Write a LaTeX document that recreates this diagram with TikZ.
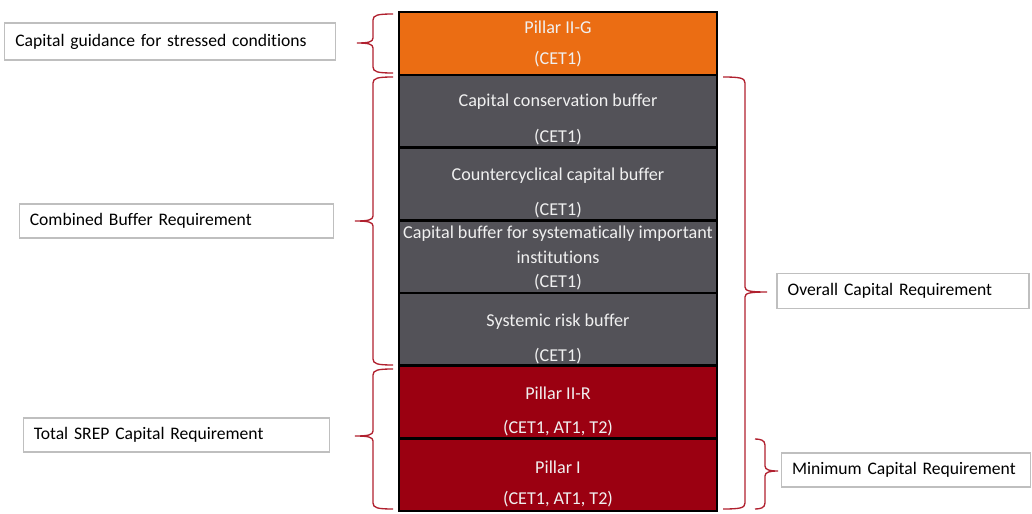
\documentclass[tikz,border=0pt]{standalone}
\usepackage{fontspec}
\setmainfont{Carlito}[Ligatures=NoCommon]
\newfontfamily\tightfont{Carlito}[Ligatures=NoCommon,WordSpace=0.6]
\usetikzlibrary{positioning}
\definecolor{pillarG}{HTML}{EB6D13}
\definecolor{bufgrey}{HTML}{535258}
\definecolor{pillarR}{HTML}{9B0011}
\definecolor{bracered}{HTML}{B0202E}
\definecolor{boxline}{HTML}{BFBFBF}
\definecolor{boxtext}{HTML}{F0F0F0}

\begin{document}
\begin{tikzpicture}[x=0.75pt,y=-0.75pt,
  layer/.style={draw=black,line width=2.2pt,outer sep=0pt,minimum width=238.5pt,
    minimum height=54.5pt,inner sep=0pt},
  layer text/.style={inner sep=0pt,text=boxtext,align=center,
    font=\fontsize{13.6}{18.4}\selectfont},
  infobox/.style={draw=boxline,line width=0.8pt,fill=white,inner xsep=8pt,
    minimum height=25.5pt,align=left,font=\tightfont\fontsize{13.2}{15}\selectfont},
  brace line/.style={draw=bracered,line width=1pt}]

  \useasboundingbox (0,0) rectangle (1032,514);

  % capital stack
  \node[layer,fill=pillarG,minimum height=47.25pt] (p2g) at (558,43.5) {};
  \node[layer,fill=bufgrey,below=0pt of p2g] (ccb) {};
  \node[layer,fill=bufgrey,below=0pt of ccb] (ccyb) {};
  \node[layer,fill=bufgrey,below=0pt of ccyb] (sii) {};
  \node[layer,fill=bufgrey,below=0pt of sii] (srb) {};
  \node[layer,fill=pillarR,below=0pt of srb] (p2r) {};
  \node[layer,fill=pillarR,below=0pt of p2r] (p1) {};

  \node[layer text,above=6pt of p2g.south] (p2g-t) {Pillar II-G\\[4.6pt](CET1)};
  \node[layer text,above=1.8pt of ccb.south] (ccb-t) {Capital conservation buffer\\[8.4pt](CET1)};
  \node[layer text,above=1.8pt of ccyb.south] (ccyb-t) {Countercyclical capital buffer\\[7.6pt](CET1)};
  \node[layer text,above=1.8pt of sii.south] (sii-t)
     {Capital buffer for systematically important\\institutions\\(CET1)};
  \node[layer text,above=1pt of srb.south] (srb-t) {Systemic risk buffer\\[7.6pt](CET1)};
  \node[layer text,above=1.8pt of p2r.south] (p2r-t) {Pillar II-R\\[7.2pt](CET1, AT1, T2)};
  \node[layer text,above=3pt of p1.south] (p1-t) {Pillar I\\[4.8pt](CET1, AT1, T2)};

  % labels
  \node[infobox,text width=232pt,minimum height=27.75pt] (guid) at (170,41.5)
     {Capital guidance for stressed conditions};
  \node[infobox,text width=220pt] (cbr) at (176.5,221)
     {Combined Buffer Requirement};
  \node[infobox,text width=214pt] (tscr) at (176.5,435)
     {Total SREP Capital Requirement};
  \node[infobox,text width=173pt,minimum height=26pt] (ocr) at (903,291)
     {Overall Capital Requirement};
  \node[infobox,text width=171pt] (mcr) at (906,470)
     {Minimum Capital Requirement};

  % braces
  \foreach \t/\m/\b/\p in {14/43/73/357, 77/221/365/355, 369/436/509/355}
    \draw[brace line] (393,\t) .. controls (378,\t) and (373,{\t+1}) .. (373,{\t+6})
      -- (373,{\m-5}) .. controls (373,{\m-1}) and (368,\m) .. (\p,\m)
      .. controls (368,\m) and (373,{\m+1}) .. (373,{\m+5})
      -- (373,{\b-6}) .. controls (373,{\b-1}) and (378,\b) .. (393,\b);
  \foreach \t/\m/\b/\tip/\s/\p in {77/292/509/723/745/767, 439/471/509/755/765/778}
    \draw[brace line] (\tip,\t) .. controls ({\s-5},\t) and (\s,{\t+1}) .. (\s,{\t+6})
      -- (\s,{\m-5}) .. controls (\s,{\m-1}) and ({\s+5},\m) .. (\p,\m)
      .. controls ({\s+5},\m) and (\s,{\m+1}) .. (\s,{\m+5})
      -- (\s,{\b-6}) .. controls (\s,{\b-1}) and ({\s-5},\b) .. (\tip,\b);
\end{tikzpicture}
\end{document}
